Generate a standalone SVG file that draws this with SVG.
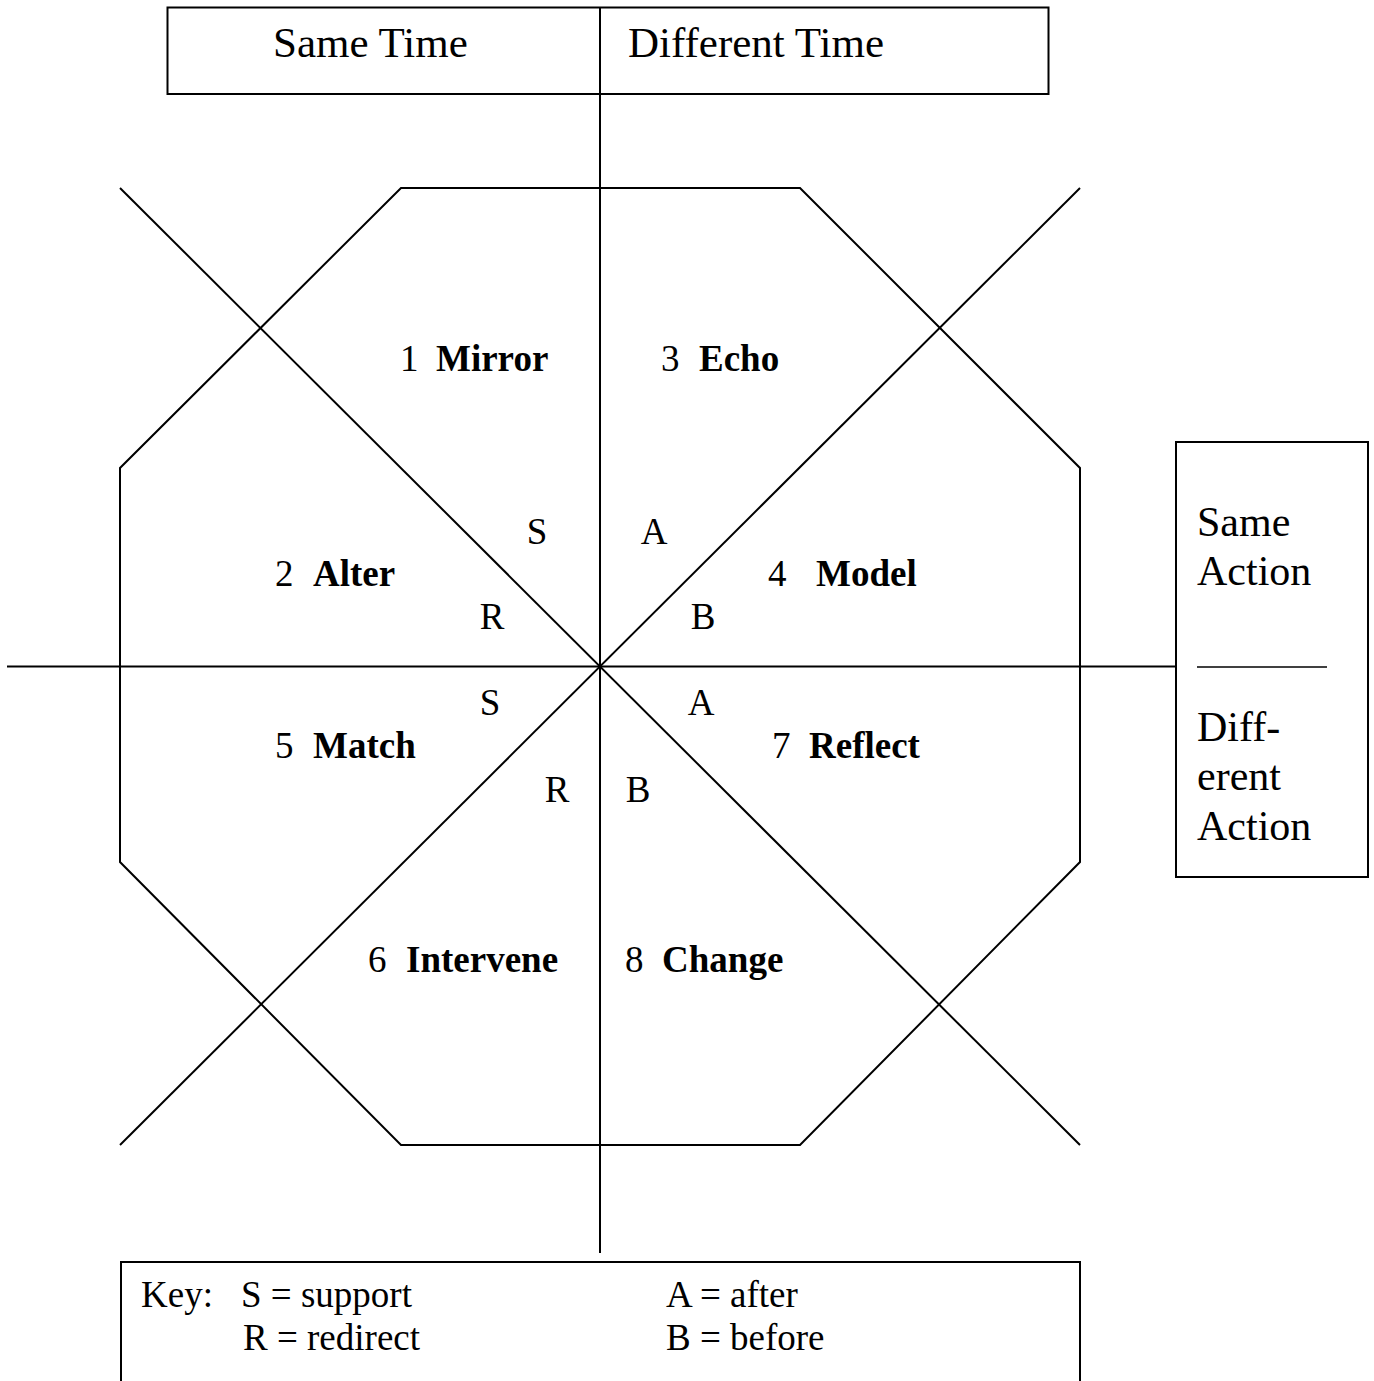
<svg xmlns="http://www.w3.org/2000/svg" width="1374" height="1381" viewBox="0 0 1374 1381">
<style>
.ln{stroke:#000;stroke-width:2;fill:none}
.t{font-family:"Liberation Serif","Times New Roman",serif;fill:#000}
.hd{font-size:43px}
.hr{font-size:42px}
.lb{font-size:37px}
.b{font-weight:bold}
.m{text-anchor:middle}
</style>
<rect width="1374" height="1381" fill="#fff"/>
<g id="connectors">
<line class="ln" x1="600" y1="7" x2="600" y2="1253"/>
<line class="ln" x1="7" y1="666.5" x2="1176" y2="666.5"/>
<line class="ln" x1="120" y1="188" x2="1080" y2="1145"/>
<line class="ln" x1="1080" y1="188" x2="120" y2="1145"/>
</g>
<g id="octagon">
<polygon class="ln" points="401,188 800,188 1080,468 1080,862 800,1145 401,1145 120,862 120,468"/>
</g>
<g id="time-header">
<rect class="ln" x="167.5" y="7.5" width="881" height="86.5"/>
<text class="t hd" x="273" y="57">Same Time</text>
<text class="t hd" x="628" y="57">Different Time</text>
</g>
<g id="action-box">
<rect class="ln" x="1176" y="442" width="192" height="435"/>
<text class="t hr" x="1197" y="536">Same</text>
<text class="t hr" x="1197" y="585">Action</text>
<line class="ln" x1="1197" y1="667" x2="1327" y2="667" style="stroke-width:1.5"/>
<text class="t hr" x="1197" y="741">Diff-</text>
<text class="t hr" x="1197" y="790">erent</text>
<text class="t hr" x="1197" y="840">Action</text>
</g>
<g id="n1"><text class="t lb" x="400" y="371">1<tspan class="b" x="436">Mirror</tspan></text></g>
<g id="n3"><text class="t lb" x="661" y="371">3<tspan class="b" x="699">Echo</tspan></text></g>
<g id="n2"><text class="t lb" x="275" y="586">2<tspan class="b" x="313">Alter</tspan></text></g>
<g id="n4"><text class="t lb" x="768" y="586">4<tspan class="b" x="816">Model</tspan></text></g>
<g id="n5"><text class="t lb" x="275" y="758">5<tspan class="b" x="313">Match</tspan></text></g>
<g id="n7"><text class="t lb" x="772" y="758">7<tspan class="b" x="809">Reflect</tspan></text></g>
<g id="n6"><text class="t lb" x="368" y="972">6<tspan class="b" x="406">Intervene</tspan></text></g>
<g id="n8"><text class="t lb" x="625" y="972">8<tspan class="b" x="662">Change</tspan></text></g>
<g id="letters">
<text class="t lb m" x="537" y="544">S</text>
<text class="t lb m" x="654" y="544">A</text>
<text class="t lb m" x="492" y="629">R</text>
<text class="t lb m" x="703" y="629">B</text>
<text class="t lb m" x="490" y="715">S</text>
<text class="t lb m" x="701" y="715">A</text>
<text class="t lb m" x="557" y="802">R</text>
<text class="t lb m" x="638" y="802">B</text>
</g>
<g id="key">
<rect class="ln" x="121" y="1262" width="959" height="200"/>
<text class="t lb" x="141" y="1307">Key:</text>
<text class="t lb" x="241" y="1307">S = support</text>
<text class="t lb" x="243" y="1350">R = redirect</text>
<text class="t lb" x="666" y="1307">A = after</text>
<text class="t lb" x="666" y="1350">B = before</text>
</g>
</svg>
